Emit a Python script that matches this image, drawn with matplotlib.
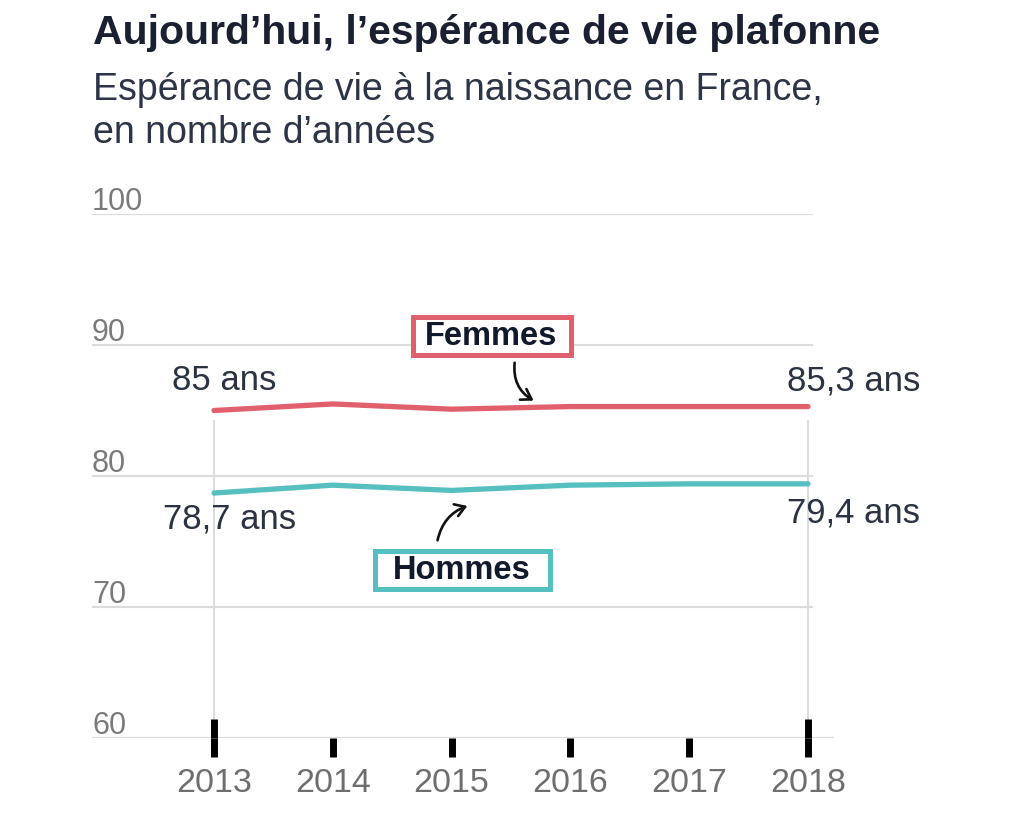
import matplotlib
matplotlib.use("Agg")
import matplotlib.pyplot as plt
from matplotlib.patches import Rectangle, FancyArrowPatch

# ---- data ----
years = [2013, 2014, 2015, 2016, 2017, 2018]
femmes = [85.0, 85.5, 85.1, 85.3, 85.3, 85.3]
hommes = [78.7, 79.3, 78.9, 79.3, 79.4, 79.4]
yticks = [60, 70, 80, 90, 100]
xtick_labels = ["2013", "2014", "2015", "2016", "2017", "2018"]
title = "Aujourd\u2019hui, l\u2019espérance de vie plafonne"
subtitle_lines = ["Espérance de vie à la naissance en France,", "en nombre d\u2019années"]
label_f_start, label_f_end = "85 ans", "85,3 ans"
label_h_start, label_h_end = "78,7 ans", "79,4 ans"

W, H = 1024, 827
plt.rcParams['font.family'] = ['Liberation Sans', 'DejaVu Sans']
fig = plt.figure(figsize=(W / 100, H / 100), dpi=100)

def fx(px):
    return px / W

def fy(py):
    return 1 - py / H

# axes placement (pixels)
ax_l, ax_r, ax_t, ax_b = 92, 834, 214, 738
ax = fig.add_axes([fx(ax_l), fy(ax_b), fx(ax_r - ax_l), (ax_b - ax_t) / H])
x0px, x1px = 214, 808
ppy = (x1px - x0px) / (years[-1] - years[0])
ax.set_xlim(years[0] - (x0px - ax_l) / ppy, years[-1] + (ax_r - x1px) / ppy)
ax.set_ylim(60, 100)
for s in ax.spines.values():
    s.set_visible(False)
ax.set_yticks([])

grid_c = '#dcdcdc'
for v in yticks:
    xmax = 1.0 if v == 60 else (812 - ax_l) / (ax_r - ax_l)
    ax.axhline(v, xmin=0, xmax=xmax, color=grid_c, lw=1.6, zorder=1)
    ax.text(0.0, v + 0.3, str(v), transform=ax.get_yaxis_transform(),
            ha='left', va='baseline', fontsize=22, color='#7a7a7a')

# vertical guides at first/last year
ypu = (ax_b - ax_t) / 40.0
top_guide = 100 - (420 - ax_t) / ypu
ax.vlines([years[0], years[-1]], 60, top_guide, color=grid_c, lw=1.4, zorder=1)

# lines
c_f = '#e0606e'
c_h = '#56bfc0'
ax.plot(years, femmes, color=c_f, lw=3.8, solid_capstyle='round', zorder=3)
ax.plot(years, hommes, color=c_h, lw=3.8, solid_capstyle='round', zorder=3)

# ticks
ax.set_xticks(years)
ax.set_xticklabels(xtick_labels, fontsize=24.5, color='#6e6e6e')
ax.tick_params(axis='x', direction='out', length=13.7, width=5, color='black', pad=8)
ax.vlines([years[0], years[-1]], 60, 60 + 19 / ypu, color='black', lw=5,
          capstyle='butt', zorder=4, clip_on=False)

# value labels
txt_c = '#2b3240'
def lab(text, x, y, dx, dy, ha):
    ax.annotate(text, xy=(x, y), xytext=(dx, -dy), textcoords='offset pixels',
                ha=ha, va='center', fontsize=25, color=txt_c, annotation_clip=False)

lab(label_f_start, years[0], femmes[0], 10, -30, 'center')
lab(label_f_end, years[-1], femmes[-1], 112, -26, 'right')
lab(label_h_start, years[0], hommes[0], 16, 26, 'center')
lab(label_h_end, years[-1], hommes[-1], 112, 29, 'right')

# legend boxes
def box(text, l, t, r, b, color):
    fig.patches.append(Rectangle((fx(l), fy(b)), fx(r - l), (b - t) / H,
                                 transform=fig.transFigure, facecolor='white',
                                 edgecolor=color, lw=3.6, zorder=5))
    fig.text(fx((l + r) / 2), fy((t + b) / 2 + 1), text, ha='center', va='center',
             fontsize=23.5, fontweight='bold', color='#111a2b', zorder=6)

box("Femmes", 412.5, 316.5, 570.5, 354.5, c_f)
box("Hommes", 374.5, 550.5, 549.5, 588.5, c_h)

# arrows
def arrow(p0, p1, rad):
    a = FancyArrowPatch((fx(p0[0]), fy(p0[1])), (fx(p1[0]), fy(p1[1])),
                        transform=fig.transFigure, connectionstyle=f"arc3,rad={rad}",
                        arrowstyle="->,head_length=7,head_width=4.5", lw=1.9,
                        color='#111111', zorder=6)
    fig.patches.append(a)

arrow((515, 360), (536, 402), 0.35)
arrow((437, 543), (470, 505), -0.3)

# title / subtitle
fig.text(fx(93), fy(44), title, ha='left', va='baseline', fontsize=29.5,
         fontweight='bold', color='#1b2030')
for i, line in enumerate(subtitle_lines):
    fig.text(fx(93), fy(100 + 43 * i), line, ha='left', va='baseline', fontsize=27,
             color='#2d3445')

fig.savefig("out.png", dpi=100)
